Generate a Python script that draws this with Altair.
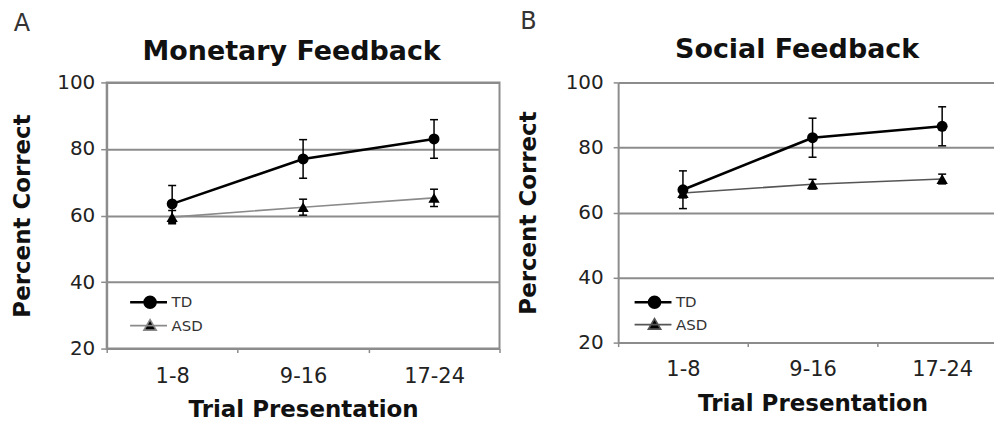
import altair as alt
import pandas as pd

categories = ["1-8", "9-16", "17-24"]
groups = ["TD", "ASD"]

mon_td = [63.5, 77.0, 83.0]
mon_td_err = [5.5, 5.8, 5.8]
mon_asd = [59.5, 62.5, 65.3]
mon_asd_err = [2.0, 2.4, 2.6]

soc_td = [67.0, 83.0, 86.5]
soc_td_err = [5.8, 6.0, 6.0]
soc_asd = [66.0, 68.7, 70.3]
soc_asd_err = [1.5, 1.5, 1.5]

titles = ["Monetary Feedback", "Social Feedback"]
panel_labels = ["A", "B"]
y_ticks = [20, 40, 60, 80, 100]

FONT = "DejaVu Sans"
GRID = "#8c8c8c"
TD_PATH = "M-2,0H1.7M0.55,0A0.55,0.55,0,1,1,-0.55,0A0.55,0.55,0,1,1,0.55,0Z"
ASD_PATH = "M-2,0H1.7M0,-0.6L0.62,0.45L-0.62,0.45Z"


def make_df(td, td_err, asd, asd_err):
    rows = []
    for g, vals, errs in (("TD", td, td_err), ("ASD", asd, asd_err)):
        for c, v, e in zip(categories, vals, errs):
            rows.append({"category": c, "group": g, "value": v, "lo": v - e, "hi": v + e})
    return pd.DataFrame(rows)


def panel(df, title, label, cfg):
    xscale = alt.Scale(type="band", domain=categories, paddingInner=0, paddingOuter=0)
    x_axis = alt.X("category:N", sort=categories, scale=xscale,
                   axis=alt.Axis(title="Trial Presentation", orient="bottom", tickBand="extent",
                                 labelAngle=0, labelFontSize=21, labelColor="#222", labelFont=FONT,
                                 labelPadding=cfg["xlabpad"], tickSize=4, tickColor=GRID,
                                 tickWidth=1.5, domainColor=GRID, domainWidth=2, grid=False,
                                 titleFontSize=23, titleFont=FONT, titleFontWeight="bold",
                                 titleColor="#111", titlePadding=cfg["xtitlepad"]))
    x = alt.X("category:N", sort=categories, scale=xscale, axis=None)

    def ychan(field, show=False):
        if not show:
            return alt.Y(f"{field}:Q", scale=alt.Scale(domain=[20, 100], nice=False, zero=False))
        return alt.Y(f"{field}:Q", scale=alt.Scale(domain=[20, 100], nice=False, zero=False),
                     axis=alt.Axis(title="Percent Correct", values=y_ticks, grid=True,
                                   gridColor=GRID, gridWidth=2, domainColor=GRID, domainWidth=2,
                                   tickColor=GRID, tickWidth=1.5, tickSize=cfg["ytick"],
                                   labelFontSize=20, labelFont=FONT, labelColor="#222",
                                   labelPadding=cfg["ylabpad"],
                                   titleFontSize=23, titleFont=FONT, titleFontWeight="bold",
                                   titleColor="#111", titlePadding=cfg["ytitlepad"]))

    base = alt.Chart(df)
    td = alt.datum.group == "TD"
    asd = alt.datum.group == "ASD"

    err_rule = base.mark_rule(color="black", strokeWidth=1.5).encode(
        x=x_axis, y=ychan("lo", show=True), y2="hi:Q")
    cap_lo = base.mark_tick(color="black", thickness=1.5, size=8, opacity=1).encode(x=x, y=ychan("lo"))
    cap_hi = base.mark_tick(color="black", thickness=1.5, size=8, opacity=1).encode(x=x, y=ychan("hi"))

    line_asd = base.transform_filter(asd).mark_line(color=cfg["asd_color"], strokeWidth=1.6).encode(
        x=x, y=ychan("value"))
    line_td = base.transform_filter(td).mark_line(color="black", strokeWidth=2.6).encode(
        x=x, y=ychan("value"))
    pts_asd = base.transform_filter(asd).mark_point(filled=True, shape="triangle-up", size=130,
                                                     color="black", opacity=1).encode(x=x, y=ychan("value"))
    pts_td = base.transform_filter(td).mark_point(filled=True, shape="circle", size=120,
                                                   color="black", opacity=1).encode(x=x, y=ychan("value"))

    leg = alt.Legend(orient="none", legendX=cfg["legx"], legendY=cfg["legy"], title=None,
                     labelFontSize=15, labelFont=FONT, labelColor="#333", symbolSize=400,
                     labelOffset=10, rowPadding=cfg["legrow"], padding=0, symbolFillColor="black")
    legend_layer = base.transform_filter("false").mark_point(filled=True, fill="black", opacity=1).encode(
        x=x, y=ychan("value"),
        shape=alt.Shape("group:N", scale=alt.Scale(domain=groups, range=[TD_PATH, ASD_PATH]), legend=leg),
        stroke=alt.Stroke("group:N", scale=alt.Scale(domain=groups, range=["black", cfg["asd_color"]]), legend=leg),
        strokeWidth=alt.StrokeWidth("group:N", scale=alt.Scale(type="ordinal", domain=groups, range=[2.6, 1.6]), legend=leg),
    )

    title_layer = base.transform_filter("false").mark_point().encode(
        x=alt.X("category:N", sort=categories, scale=xscale,
                axis=alt.Axis(orient="top", title=title, labels=False, ticks=False, domain=False,
                              grid=False, titleFontSize=27, titleFont=FONT, titleFontWeight="bold",
                              titleColor="#111", titlePadding=cfg["toppad"], titleX=cfg["titlex"])),
        y=ychan("value"),
    )

    return alt.layer(err_rule, cap_lo, cap_hi, line_asd, line_td, pts_asd, pts_td,
                     legend_layer, title_layer).resolve_axis(x="independent").properties(
        width=cfg["w"], height=cfg["h"],
        title=alt.TitleParams(label, anchor="start", frame="bounds", fontSize=24,
                              fontWeight="normal", font=FONT, color="#333",
                              offset=cfg["toff"], dx=cfg["tdx"]),
        view=alt.ViewBackground(stroke=cfg["stroke"], strokeWidth=2),
    )


cfg_a = dict(w=394, h=267, xlabpad=13, xtitlepad=12, ytick=6, ylabpad=6, ytitlepad=22,
             legx=32, legy=209, legrow=1, asd_color="#8a8a8a", toppad=17, titlex=185,
             toff=2, tdx=2, stroke=GRID)
cfg_b = dict(w=390, h=261, xlabpad=12, xtitlepad=13, ytick=5, ylabpad=10, ytitlepad=25,
             legx=25, legy=209, legrow=0, asd_color="#555555", toppad=19, titlex=179,
             toff=2, tdx=3, stroke="transparent")

df_a = make_df(mon_td, mon_td_err, mon_asd, mon_asd_err)
df_b = make_df(soc_td, soc_td_err, soc_asd, soc_asd_err)

chart = alt.hconcat(
    panel(df_a, titles[0], panel_labels[0], cfg_a),
    panel(df_b, titles[1], panel_labels[1], cfg_b),
    spacing=14,
).resolve_scale(
    shape="independent", stroke="independent", strokeWidth="independent"
).resolve_legend(
    shape="independent", stroke="independent", strokeWidth="independent"
).properties(
    padding={"left": 2, "top": 0, "right": -15, "bottom": -2},
).configure(font=FONT, background="white")

chart.save("out.html", embed_options={"renderer": "svg", "actions": False})
